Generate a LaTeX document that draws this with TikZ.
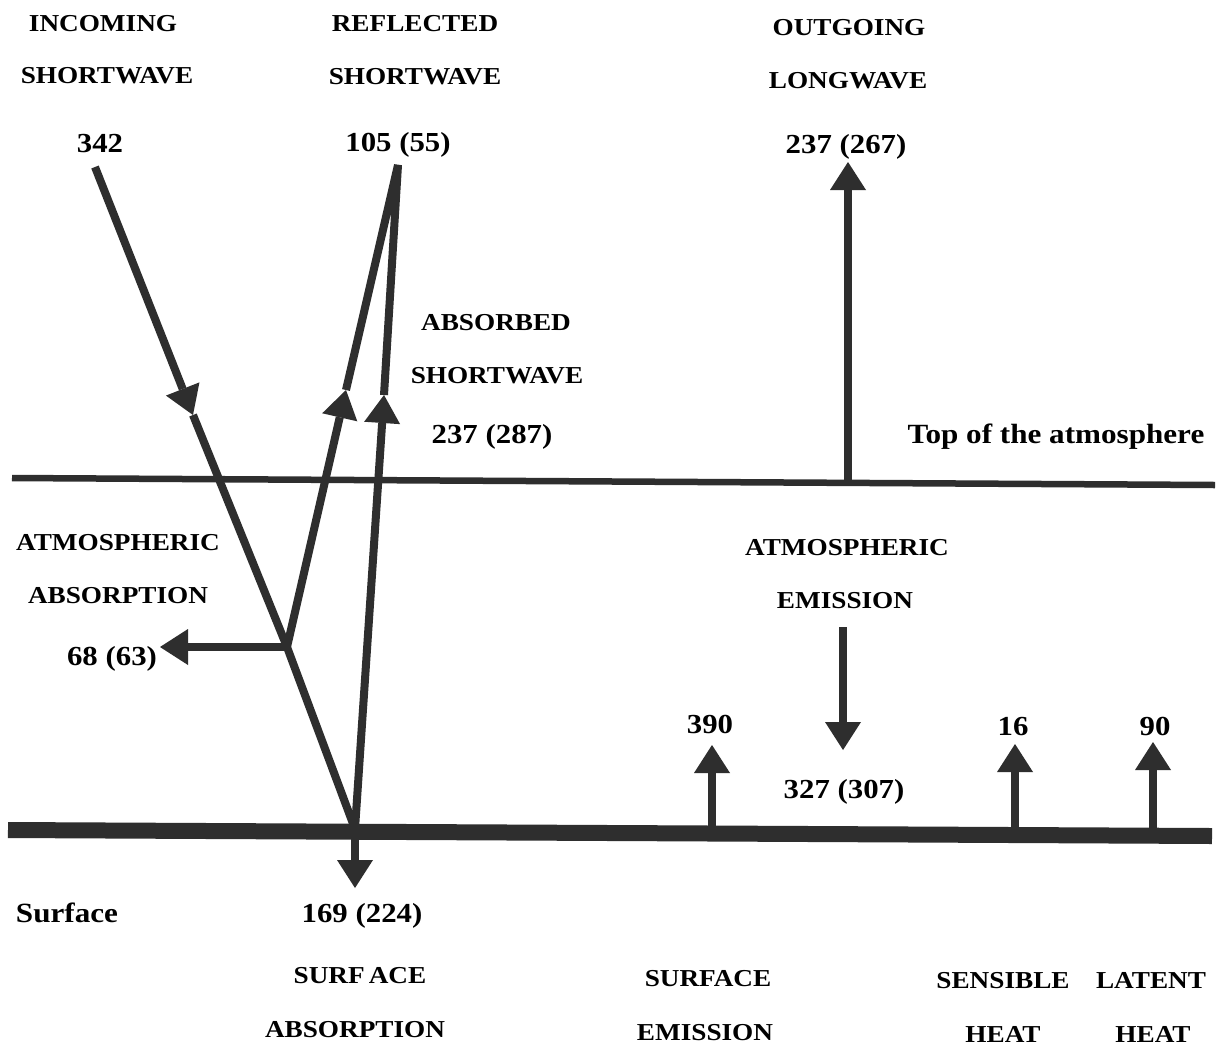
\documentclass[tikz,border=0pt]{standalone}
\usepackage{fontspec}
\setmainfont{Liberation Serif}[FakeStretch=1.12]
\usetikzlibrary{arrows.meta}
\definecolor{inkc}{HTML}{2E2E2E}
\begin{document}
\begin{tikzpicture}[x=1pt,y=-1pt,
  ink/.style={draw=inkc, line width=8pt},
  arr/.style={ink, -{Triangle[length=28pt,width=36pt,line width=0pt]}},
  lbl/.style={font=\bfseries\fontsize{24.3}{28}\selectfont, inner sep=0pt, anchor=base, text=black},
  num/.style={font=\bfseries\fontsize{27.5}{32}\selectfont, inner sep=0pt, anchor=base, text=black},
  ttl/.style={font=\bfseries\fontsize{27.8}{32}\selectfont, inner sep=0pt, anchor=base, text=black}]
\useasboundingbox[fill=white] (0,0) rectangle (1218,1045);

% coordinates
\coordinate (tl) at (12,478);
\coordinate (tr) at (1215,485);
\coordinate (sl) at (8,830);
\coordinate (sr) at (1212,836);
\coordinate (inS) at (95,167);
\coordinate (inA) at (193,415);
\coordinate (br) at (287,647);
\coordinate (sp) at (355,829);
\coordinate (apex) at (398,165);
\coordinate (refA) at (346,390);
\coordinate (absA) at (384,395);
\coordinate (aaTip) at (160,647);
\coordinate (saTip) at (355,888);
\coordinate (olB) at (848,483);
\coordinate (olTip) at (848,162);
\coordinate (aeS) at (843,627);
\coordinate (aeTip) at (843,750);
\coordinate (seB) at (712,832);
\coordinate (seTip) at (712,745);
\coordinate (shB) at (1015,834);
\coordinate (shTip) at (1015,744);
\coordinate (lhB) at (1153,835);
\coordinate (lhTip) at (1153,742);

% horizontal levels
\draw[draw=inkc, line width=6.5pt] (tl) -- (tr);
\draw[draw=inkc, line width=16pt] (sl) -- (sr);

% incoming shortwave
\draw[arr] (inS) -- (inA);
\draw[ink] (inA) -- (br) -- (sp);
% atmospheric absorption
\draw[arr] (br) -- (aaTip);
% reflected / absorbed
\draw[arr] (br) -- (refA);
\draw[arr] (sp) -- (absA);
\draw[ink, line join=bevel] (refA) -- (apex) -- (absA);
% surface absorption
\draw[arr] (sp) -- (saTip);
% outgoing longwave
\draw[arr] (olB) -- (olTip);
% atmospheric emission
\draw[arr] (aeS) -- (aeTip);
% surface fluxes
\draw[arr] (seB) -- (seTip);
\draw[arr] (shB) -- (shTip);
\draw[arr] (lhB) -- (lhTip);

% labels
\node[lbl] (t1) at (103,31) {INCOMING};
\node[lbl] (t2) at (107,83) {SHORTWAVE};
\node[num] (t3) at (100,152) {342};
\node[lbl] (t4) at (415,31) {REFLECTED};
\node[lbl] (t5) at (415,84) {SHORTWAVE};
\node[num] (t6) at (398,151) {105 (55)};
\node[lbl] (t7) at (849,35) {OUTGOING};
\node[lbl] (t8) at (848,88) {LONGWAVE};
\node[num] (t9) at (846,153) {237 (267)};
\node[lbl] (t10) at (496,330) {ABSORBED};
\node[lbl] (t11) at (497,383) {SHORTWAVE};
\node[num] (t12) at (492,443) {237 (287)};
\node[ttl] (t13) at (1056,443) {Top of the atmosphere};
\node[lbl] (t14) at (118,550) {ATMOSPHERIC};
\node[lbl] (t15) at (118,603) {ABSORPTION};
\node[num] (t16) at (112,665) {68 (63)};
\node[lbl] (t17) at (847,555) {ATMOSPHERIC};
\node[lbl] (t18) at (845,608) {EMISSION};
\node[num] (t19) at (710,733) {390};
\node[num] (t20) at (1013,735) {16};
\node[num] (t21) at (1155,735) {90};
\node[num] (t22) at (844,798) {327 (307)};
\node[ttl] (t23) at (67,922) {Surface};
\node[num] (t24) at (362,922) {169 (224)};
\node[lbl] (t25) at (360,983) {SURF\,ACE};
\node[lbl] (t26) at (355,1037) {ABSORPTION};
\node[lbl] (t27) at (708,986) {SURFACE};
\node[lbl] (t28) at (705,1040) {EMISSION};
\node[lbl] (t29) at (1003,988) {SENSIBLE};
\node[lbl] (t30) at (1003,1042) {HEAT};
\node[lbl] (t31) at (1151,988) {LATENT};
\node[lbl] (t32) at (1153,1042) {HEAT};
\end{tikzpicture}
\end{document}
